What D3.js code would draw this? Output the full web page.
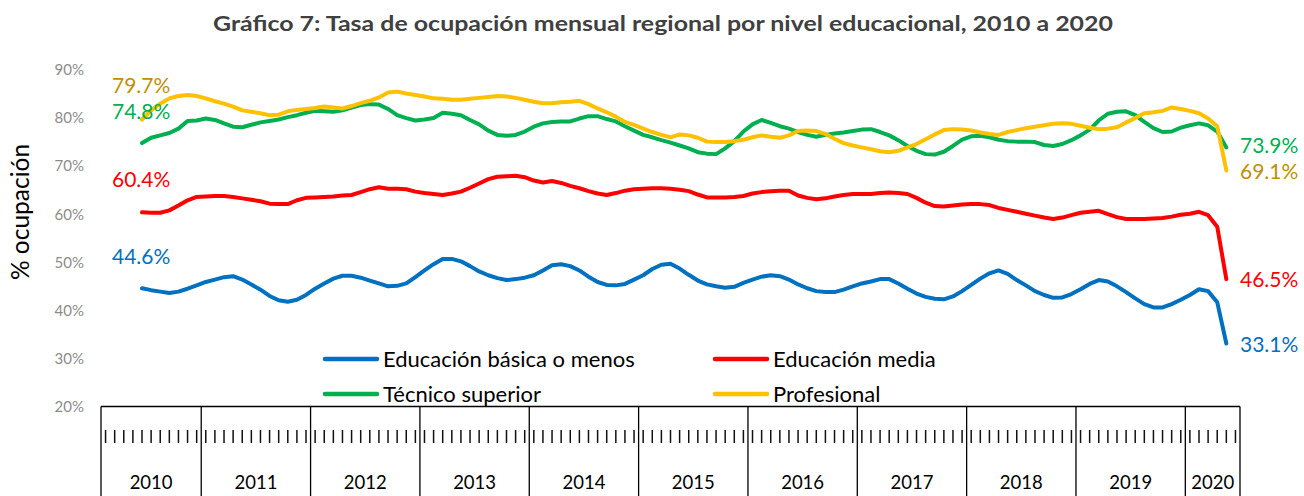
<!DOCTYPE html>
<html><head><meta charset="utf-8">
<script src="https://cdn.jsdelivr.net/npm/d3@7"></script>
<style>body{margin:0;background:#fff}</style>
</head><body><svg id="c" width="1304" height="496"></svg>
<script>
const title = "Gráfico 7: Tasa de ocupación mensual regional por nivel educacional, 2010 a 2020";
const years = ["2010","2011","2012","2013","2014","2015","2016","2017","2018","2019","2020"];
const monthsPerYear = [11,12,12,12,12,12,12,12,12,12,6];
const yTicks = [20,30,40,50,60,70,80,90];
const seriesNames = ["Educación básica o menos","Educación media","Técnico superior","Profesional"];

const basica = [null,null,null,null,
44.6,44.2,43.9,43.6,43.9,44.5,45.2,
45.9,46.4,46.9,47.1,46.4,45.4,44.3,43.0,42.1,41.8,42.2,43.2,
44.5,45.6,46.6,47.2,47.2,46.8,46.2,45.6,45.0,45.1,45.6,46.9,
48.3,49.6,50.7,50.7,50.2,49.2,48.1,47.3,46.7,46.3,46.5,46.8,
47.3,48.3,49.4,49.6,49.2,48.3,47.0,45.9,45.3,45.2,45.5,46.4,
47.3,48.6,49.5,49.7,48.7,47.4,46.2,45.4,45.0,44.7,44.9,45.7,
46.4,47.0,47.3,47.1,46.4,45.4,44.6,44.0,43.8,43.8,44.3,45.0,
45.6,46.0,46.5,46.5,45.6,44.5,43.5,42.8,42.4,42.3,42.9,44.0,
45.3,46.6,47.7,48.3,47.6,46.3,45.2,44.0,43.2,42.6,42.7,43.4,
44.4,45.5,46.3,46.0,45.0,43.8,42.5,41.3,40.6,40.6,41.3,42.2,
43.2,44.4,44.0,41.7,33.1,null];

const media = [null,null,null,null,
60.4,60.3,60.3,60.8,61.8,62.9,63.6,
63.7,63.8,63.8,63.6,63.3,63.0,62.7,62.2,62.1,62.1,62.9,63.4,
63.5,63.6,63.7,63.9,64.0,64.6,65.2,65.6,65.3,65.3,65.2,64.7,
64.4,64.2,64.0,64.3,64.7,65.5,66.4,67.3,67.8,67.9,68.0,67.7,
67.0,66.6,66.9,66.5,65.9,65.4,64.8,64.3,64.0,64.4,64.9,65.2,
65.3,65.4,65.4,65.3,65.1,64.8,64.1,63.5,63.5,63.5,63.6,63.8,
64.3,64.6,64.8,64.9,64.9,63.9,63.4,63.1,63.3,63.7,64.0,64.2,
64.2,64.2,64.4,64.5,64.4,64.2,63.4,62.4,61.7,61.6,61.8,62.0,
62.1,62.1,61.9,61.3,60.9,60.5,60.1,59.7,59.3,59.0,59.3,59.8,
60.3,60.5,60.7,60.0,59.4,59.0,59.0,59.0,59.1,59.2,59.5,59.9,
60.1,60.5,59.8,57.4,46.5,null];

const tecnico = [null,null,null,null,
74.8,75.9,76.4,76.9,77.8,79.4,79.5,
79.9,79.6,78.9,78.2,78.1,78.6,79.1,79.4,79.7,80.2,80.6,81.1,
81.5,81.4,81.3,81.6,82.2,82.7,82.9,82.8,81.9,80.6,80.0,79.5,
79.7,80.0,81.1,80.9,80.6,79.6,78.7,77.4,76.5,76.3,76.5,77.2,
78.2,78.9,79.2,79.3,79.3,79.9,80.4,80.4,79.8,79.3,78.3,77.4,
76.5,76.0,75.4,74.9,74.3,73.7,72.9,72.6,72.5,73.7,75.2,77.2,
78.7,79.6,79.0,78.3,77.8,77.1,76.5,76.1,76.5,76.8,77.0,77.3,
77.6,77.7,77.1,76.4,75.4,74.2,73.2,72.5,72.4,73.0,74.2,75.5,
76.2,76.3,76.0,75.5,75.2,75.1,75.1,75.0,74.4,74.2,74.6,75.4,
76.4,77.6,79.5,80.9,81.3,81.4,80.6,79.2,77.9,77.1,77.2,78.0,
78.5,78.9,78.5,77.2,73.9,null];

const profesional = [null,null,null,null,
79.7,81.6,83.0,84.1,84.6,84.8,84.6,
84.1,83.5,83.0,82.4,81.6,81.3,81.0,80.6,80.7,81.4,81.7,81.9,
82.1,82.4,82.2,82.0,82.5,83.1,83.6,84.3,85.3,85.5,85.1,84.8,
84.5,84.1,84.0,83.8,83.8,84.0,84.2,84.4,84.6,84.5,84.2,83.8,
83.4,83.1,83.1,83.3,83.4,83.6,82.9,82.0,81.2,80.3,79.2,78.6,
77.8,77.1,76.5,76.0,76.6,76.4,75.9,75.1,75.0,75.0,75.2,75.5,
76.0,76.4,76.1,75.9,76.4,77.3,77.4,77.3,76.7,75.7,74.8,74.3,
73.9,73.5,73.1,72.9,73.2,73.9,74.6,75.6,76.6,77.5,77.7,77.6,
77.4,77.0,76.7,76.5,77.1,77.5,77.9,78.2,78.5,78.8,78.9,78.8,
78.4,78.0,77.7,77.8,78.1,79.1,80.0,81.0,81.2,81.5,82.2,81.9,
81.5,81.0,79.9,78.3,69.1,null];

const allSeries = [basica, media, tecnico, profesional];
const lineColors = ["#0070C0","#FF0000","#00B050","#FFC000"];
const labelColors = ["#0070C0","#FF0000","#00B050","#BF9000"];

const FONT = "Lato, 'Open Sans', sans-serif";
const svg = d3.select("#c");

// categories
const cats = [];
years.forEach((y,i)=>{ for(let m=0;m<monthsPerYear[i];m++) cats.push({year:y, m}); });

const x = d3.scaleBand().domain(d3.range(cats.length)).range([101,1240]).padding(0);
const y = d3.scaleLinear().domain([20,90]).range([406.5,70]);

// title
svg.append("text").attr("x",663).attr("y",31).attr("text-anchor","middle")
  .attr("font-family",FONT).attr("font-weight","bold").attr("font-size",21)
  .attr("textLength",900).attr("lengthAdjust","spacingAndGlyphs")
  .attr("fill","#404040").text(title);

// y axis
const yAxis = d3.axisLeft(y).tickValues(yTicks).tickFormat(d=>d+"%").tickSize(0).tickPadding(0);
const gy = svg.append("g").attr("transform","translate(84,0)").call(yAxis);
gy.select(".domain").remove();
gy.selectAll("text").attr("font-family",FONT).attr("font-size",15).attr("fill","#8c8c8c");

// y title
svg.append("text").attr("transform","translate(29,212) rotate(-90)").attr("text-anchor","middle")
  .attr("font-family",FONT).attr("font-size",24.5).attr("fill","#000").text("% ocupación");

// category box
const gx = svg.append("g");
gx.append("line").attr("x1",x(0)).attr("x2",x(cats.length-1)+x.bandwidth()).attr("y1",y(20)).attr("y2",y(20))
  .attr("stroke","#000").attr("stroke-width",1.3);
let idx = 0; const bounds = [0];
monthsPerYear.forEach(n=>{ idx += n; bounds.push(idx); });
bounds.forEach(b=>{
  const bx = b < cats.length ? x(b) : x(cats.length-1)+x.bandwidth();
  gx.append("line").attr("x1",bx).attr("x2",bx).attr("y1",y(20)).attr("y2",500)
    .attr("stroke","#000").attr("stroke-width",1.3);
});
gx.selectAll(".mt").data(cats).enter().append("line")
  .attr("x1",(d,i)=>x(i)+x.bandwidth()/2).attr("x2",(d,i)=>x(i)+x.bandwidth()/2)
  .attr("y1",430).attr("y2",443).attr("stroke","#111").attr("stroke-width",1.5);
years.forEach((yr,i)=>{
  const cx = (x(bounds[i]) + (bounds[i+1] < cats.length ? x(bounds[i+1]) : x(cats.length-1)+x.bandwidth()))/2;
  gx.append("text").attr("x",cx).attr("y",489).attr("text-anchor","middle")
    .attr("font-family",FONT).attr("font-size",18.5).attr("fill","#000").text(yr);
});

// legend
const legendPos = [[325,359],[715,359],[325,394],[715,394]];
seriesNames.forEach((nm,i)=>{
  const [lx,ly] = legendPos[i];
  svg.append("line").attr("x1",lx).attr("x2",lx+52).attr("y1",ly).attr("y2",ly)
    .attr("stroke",lineColors[i]).attr("stroke-width",4.5).attr("stroke-linecap","round");
  svg.append("text").attr("x",lx+58).attr("y",ly).attr("dy","0.35em")
    .attr("font-family",FONT).attr("font-size",22).attr("fill","#000").text(nm);
});

// lines
const line = d3.line().defined(d=>d!=null).x((d,i)=>x(i)+x.bandwidth()/2).y(d=>y(d));
allSeries.forEach((s,i)=>{
  svg.append("path").datum(s).attr("d",line).attr("fill","none")
    .attr("stroke",lineColors[i]).attr("stroke-width",4).attr("stroke-linejoin","round").attr("stroke-linecap","round");
});

// data labels
const leftY = [256.5,180,112,85.5];
const rightY = [345,279.5,146,172];
allSeries.forEach((s,i)=>{
  const first = s.find(v=>v!=null);
  const last = s.filter(v=>v!=null).slice(-1)[0];
  svg.append("text").attr("x",112).attr("y",leftY[i]).attr("dy","0.35em")
    .attr("font-family",FONT).attr("font-size",21).attr("fill",labelColors[i]).text(first.toFixed(1)+"%");
  svg.append("text").attr("x",1240).attr("y",rightY[i]).attr("dy","0.35em")
    .attr("font-family",FONT).attr("font-size",21).attr("fill",labelColors[i]).text(last.toFixed(1)+"%");
});
</script></body></html>
